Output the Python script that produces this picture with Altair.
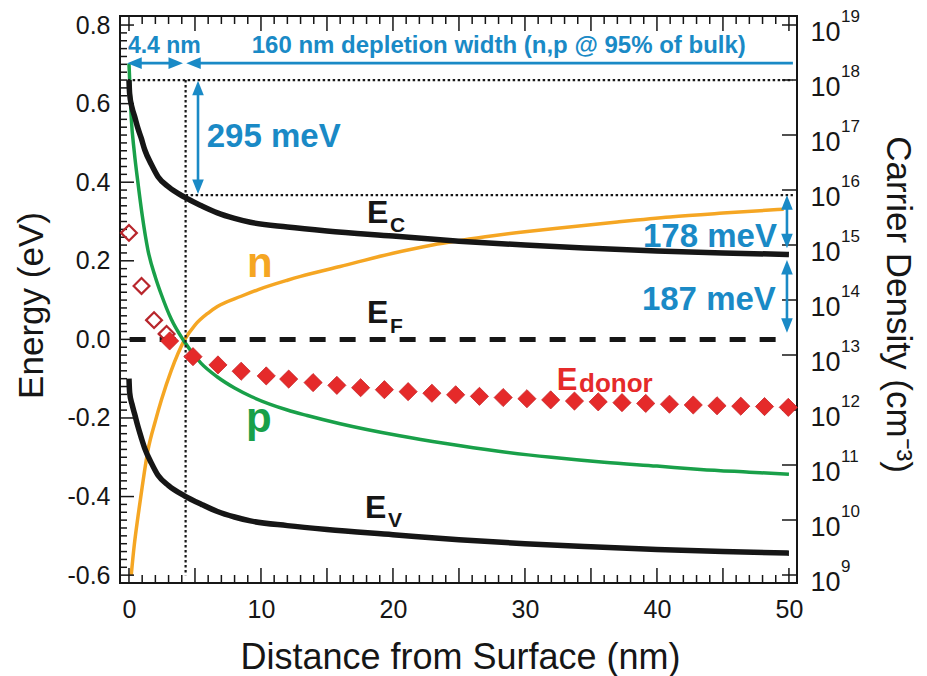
import altair as alt
import pandas as pd

# ---------------- data ----------------
band_x = [0, 0.05, 0.23, 0.43, 0.68, 0.93, 1.2, 1.7, 2.2, 3, 4.2, 5.5, 6.7, 8, 9.2,
          12, 15, 20, 25, 30, 35, 40, 45, 50]
ec_vals = [0.66, 0.625, 0.59, 0.567, 0.537, 0.512, 0.482, 0.445, 0.414, 0.388, 0.362,
           0.34, 0.322, 0.308, 0.298, 0.286, 0.276, 0.263, 0.25, 0.24, 0.232, 0.225,
           0.22, 0.216]
ev_vals = [-0.10, -0.135, -0.165, -0.19, -0.222, -0.25, -0.278, -0.315, -0.346, -0.372,
           -0.398, -0.42, -0.438, -0.452, -0.462, -0.474, -0.484, -0.497, -0.51, -0.52,
           -0.528, -0.535, -0.54, -0.544]

p_x = [0, 0.17, 0.4, 0.68, 1.0, 1.44, 2.0, 2.45, 3.2, 4.2, 5.45, 6.7, 8.0, 9.3, 12,
       13.5, 16, 20.5, 24, 28, 32, 36, 40, 43.3, 47, 50]
p_vals = [2.0e18, 2.1e17, 5.0e16, 1.35e16, 3.5e15, 8.0e14, 2.6e14, 1.26e14, 4.5e13,
          1.74e13, 7.1e12, 3.98e12, 2.51e12, 1.74e12, 1.0e12, 7.94e11, 5.62e11, 3.39e11,
          2.45e11, 1.78e11, 1.38e11, 1.12e11, 9.55e10, 8.32e10, 7.41e10, 6.76e10]

n_x = [0.17, 0.4, 0.68, 1.0, 1.44, 2.0, 2.45, 3.2, 4.2, 5.0, 6.0, 6.7, 8.5, 9.8, 12,
       13, 16, 20, 23, 27, 30, 33, 37, 41, 45, 49.6]
n_vals = [1.0e9, 3.5e9, 1.15e10, 4.0e10, 1.86e11, 6.3e11, 1.5e12, 5.2e12, 1.86e13,
          3.5e13, 5.8e13, 7.6e13, 1.17e14, 1.55e14, 2.29e14, 2.69e14, 4.07e14, 7.08e14,
          1.0e15, 1.41e15, 1.74e15, 2.09e15, 2.63e15, 3.24e15, 3.8e15, 4.47e15]

donor_open_x = [0, 0.95, 1.9, 2.85]
donor_open_e = [0.271, 0.136, 0.049, 0.014]
donor_x = [3.08, 4.85, 6.74, 8.5, 10.4, 12.1, 13.95, 15.75, 17.55, 19.35, 21.15, 22.95,
           24.75, 26.55, 28.35, 30.15, 31.95, 33.75, 35.55, 37.35, 39.15, 40.95, 42.75,
           44.55, 46.35, 48.15, 49.95]
donor_e = [-0.004, -0.044, -0.065, -0.081, -0.093, -0.101, -0.110, -0.117, -0.123,
           -0.128, -0.133, -0.137, -0.141, -0.145, -0.148, -0.151, -0.154, -0.157,
           -0.159, -0.161, -0.163, -0.165, -0.167, -0.169, -0.170, -0.171, -0.173]

x_tick_labels = [0, 10, 20, 30, 40, 50]
energy_tick_labels = [-0.6, -0.4, -0.2, 0.0, 0.2, 0.4, 0.6, 0.8]
density_ticks = [1e9, 1e10, 1e11, 1e12, 1e13, 1e14, 1e15, 1e16, 1e17, 1e18, 1e19]
density_exponents = ["9", "10", "11", "12", "13", "14", "15", "16", "17", "18", "19"]

# tick marks (axis furniture)
x_major_ticks = [0, 5, 10, 15, 20, 25, 30, 35, 40, 45, 50]
x_minor_ticks = [i for i in range(0, 51) if i % 5 != 0]
e_major_ticks = energy_tick_labels
e_minor_ticks = [round(-0.6 + 0.02 * i, 2) for i in range(71) if i % 10 != 0]

# ---------------- styling ----------------
W, H = 677, 567
FONT = "Liberation Sans"
BLUE = "#1a8ac6"
ORANGE = "#f5a623"
GREEN = "#19a049"
RED = "#e52a2a"
DARKRED = "#b8262c"
INK = "#161616"

XS = alt.Scale(domain=[-0.68, 50.61], nice=False, zero=False)
ES = alt.Scale(domain=[-0.62, 0.823], nice=False, zero=False)
DS = alt.Scale(type="log", domain=[10 ** 8.8545, 10 ** 19.1636], nice=False)

x_axis = alt.Axis(values=x_tick_labels, title="Distance from Surface (nm)", format="d",
                  labelFontSize=25, labelPadding=14, labelFlush=False,
                  titleFontSize=36, titleX=340, titleY=85, titleBaseline="alphabetic")
e_axis = alt.Axis(orient="left", values=energy_tick_labels,
                  labelExpr="datum.value < 0 ? '-' + format(-datum.value, '.1f') : format(datum.value, '.1f')",
                  title="Energy (eV)", labelFontSize=25, labelPadding=10, labelFlush=False,
                  titleFontSize=35, titleAngle=270, titleX=-78, titleY=289,
                  titleBaseline="alphabetic")
d_axis = alt.Axis(orient="right", values=density_ticks, labelExpr="'10'",
                  title="Carrier Density (cm⁻³)", labelFontSize=27, labelPadding=13,
                  labelOffset=8, labelBaseline="middle", labelFlush=False,
                  titleFontSize=35, titleAngle=90, titleX=89, titleY=288,
                  titleBaseline="alphabetic")


def X(f="x"):
    return alt.X(f"{f}:Q", scale=XS, axis=x_axis)


def E(f="e"):
    return alt.Y(f"{f}:Q", scale=ES, axis=e_axis)


def D(f="d"):
    return alt.Y(f"{f}:Q", scale=DS, axis=d_axis)


band_df = pd.DataFrame({"x": band_x, "ec": ec_vals, "ev": ev_vals})
n_df = pd.DataFrame({"x": n_x, "d": n_vals})
p_df = pd.DataFrame({"x": p_x, "d": p_vals})
dens_tick_df = pd.DataFrame({"d": density_ticks, "t": density_exponents})

# ---------------- density layer (right axis) ----------------
n_line = alt.Chart(n_df).mark_line(color=ORANGE, strokeWidth=3.5, interpolate="monotone").encode(
    x=X(), y=D())
p_line = alt.Chart(p_df).mark_line(color=GREEN, strokeWidth=3.5, interpolate="monotone").encode(
    x=X(), y=D())
right_ticks = alt.Chart(dens_tick_df).mark_rule(color=INK, strokeWidth=1.5).encode(
    y=D(), x=alt.value(W), x2=alt.value(W - 15))
exps = alt.Chart(dens_tick_df).mark_text(align="left", baseline="middle", dy=-8, fontSize=17,
                                         font=FONT, color=INK).encode(
    x=alt.value(721), y=D(), text="t:N")
density_layer = alt.layer(n_line, p_line, right_ticks, exps)

# ---------------- energy layer (left axis) ----------------
def rules_h(vals, length, top=False):
    df = pd.DataFrame({"x": vals})
    if top:
        return alt.Chart(df).mark_rule(color=INK, strokeWidth=1.5).encode(
            x=X(), y=alt.value(0), y2=alt.value(length))
    return alt.Chart(df).mark_rule(color=INK, strokeWidth=1.5).encode(
        x=X(), y=alt.value(H), y2=alt.value(H - length))


def rules_v(vals, length):
    df = pd.DataFrame({"e": vals})
    return alt.Chart(df).mark_rule(color=INK, strokeWidth=1.5).encode(
        y=E(), x=alt.value(0), x2=alt.value(length))


tick_layers = [
    rules_h(x_minor_ticks, 8), rules_h(x_major_ticks, 15),
    rules_h(x_minor_ticks, 8, top=True), rules_h(x_major_ticks, 15, top=True),
    rules_v(e_minor_ticks, 7), rules_v(e_major_ticks, 14),
]

dotted_df = pd.DataFrame({"x": [-0.1, 4.29, 4.29], "x2": [50.3, 4.29, 50.3],
                          "e": [0.66, 0.66, 0.367], "e2": [0.66, -0.6, 0.367]})
dotted = alt.Chart(dotted_df).mark_rule(color=INK, strokeWidth=2.2, strokeDash=[2.5, 2.5]).encode(
    x=X(), x2="x2:Q", y=E(), y2="e2:Q")

ef_df = pd.DataFrame({"x": [0.05], "x2": [50.0], "e": [0.0]})
ef = alt.Chart(ef_df).mark_rule(color=INK, strokeWidth=5, strokeDash=[16, 14]).encode(
    x=X(), x2="x2:Q", y=E())

ec_line = alt.Chart(band_df).mark_line(color=INK, strokeWidth=5.5, interpolate="monotone").encode(
    x=X(), y=E("ec"))
ev_line = alt.Chart(band_df).mark_line(color=INK, strokeWidth=5.5, interpolate="monotone").encode(
    x=X(), y=E("ev"))

open_df = pd.DataFrame({"x": donor_open_x, "e": donor_open_e})
filled_df = pd.DataFrame({"x": donor_x, "e": donor_e})
open_pts = alt.Chart(open_df).mark_point(shape="diamond", size=250, filled=False, color=DARKRED,
                                         strokeWidth=2.2, opacity=1).encode(x=X(), y=E())
filled_pts = alt.Chart(filled_df).mark_point(shape="diamond", size=330, filled=True, color=RED,
                                             opacity=1, stroke="#c8262a", strokeWidth=0.8).encode(
    x=X(), y=E())

# blue arrows
arrow_df = pd.DataFrame({
    "x": [0.44, 4.91, 5.23, 49.85, 49.85],
    "x2": [3.52, 50.3, 5.23, 49.85, 49.85],
    "e": [0.703, 0.703, 0.639, 0.348, 0.183],
    "e2": [0.703, 0.703, 0.389, 0.251, 0.036],
})
arrow_lines = alt.Chart(arrow_df).mark_rule(color=BLUE, strokeWidth=2.6).encode(
    x=X(), x2="x2:Q", y=E(), y2="e2:Q")

LEFT = "M0,0L2,-0.8L2,0.8Z"
RIGHT = "M0,0L-2,-0.8L-2,0.8Z"
UP = "M0,0L-0.8,2L0.8,2Z"
DOWN = "M0,0L-0.8,-2L0.8,-2Z"
heads = [(-0.13, 0.703, LEFT), (4.09, 0.703, RIGHT), (4.34, 0.703, LEFT),
         (5.23, 0.658, UP), (5.23, 0.37, DOWN),
         (49.85, 0.367, UP), (49.85, 0.232, DOWN),
         (49.85, 0.202, UP), (49.85, 0.017, DOWN)]
head_layers = []
for hx, he, shp in heads:
    head_layers.append(
        alt.Chart(pd.DataFrame({"x": [hx], "e": [he]})).mark_point(
            shape=shp, size=210, filled=True, color=BLUE, opacity=1, strokeWidth=0
        ).encode(x=X(), y=E()))


def txt(x, e, s, size, color, weight="bold"):
    return alt.Chart(pd.DataFrame({"x": [x], "e": [e], "t": [s]})).mark_text(
        align="left", baseline="alphabetic", fontSize=size, fontWeight=weight,
        font=FONT, color=color).encode(x=X(), y=E(), text="t:N")


texts = [
    txt(18.03, 0.296, "E", 32, INK), txt(19.77, 0.273, "C", 21, INK),
    txt(18.03, 0.0415, "E", 32, INK), txt(19.77, 0.016, "F", 21, INK),
    txt(17.88, -0.455, "E", 32, INK), txt(19.62, -0.478, "V", 21, INK),
    txt(8.94, 0.159, "n", 42, ORANGE),
    txt(8.86, -0.236, "p", 42, GREEN),
    txt(32.4, -0.129, "E", 31, RED), txt(34.1, -0.133, "donor", 26, RED),
    txt(-0.08, 0.729, "4.4 nm", 23, BLUE),
    txt(9.3, 0.729, "160 nm depletion width (n,p @ 95% of bulk)", 24, BLUE),
    txt(5.89, 0.49, "295 meV", 33, BLUE),
    txt(38.94, 0.235, "178 meV", 33, BLUE),
    txt(38.86, 0.0746, "187 meV", 33, BLUE),
]

energy_layer = alt.layer(ec_line, *tick_layers, dotted, ef, ev_line, open_pts, filled_pts,
                         arrow_lines, *head_layers, *texts)

chart = (
    alt.layer(density_layer, energy_layer)
    .resolve_scale(y="independent")
    .properties(width=W, height=H,
                padding={"left": 120, "top": 16, "right": 130, "bottom": 93},
                autosize=alt.AutoSizeParams(type="none"))
    .configure_view(stroke=INK, strokeWidth=2)
    .configure_axis(domain=False, ticks=False, tickSize=0, grid=False,
                    labelFont=FONT, titleFont=FONT, labelColor=INK, titleColor=INK,
                    titleFontWeight="normal", labelOverlap=False)
)

chart.save("out.html", embed_options={"renderer": "svg", "actions": False})
